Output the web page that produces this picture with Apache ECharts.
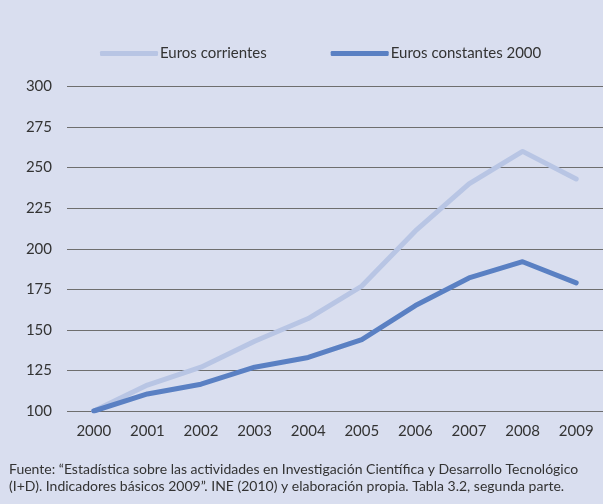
<!DOCTYPE html>
<html><head><meta charset="utf-8">
<script src="https://cdn.jsdelivr.net/npm/echarts@6/dist/echarts.min.js"></script>
<style>html,body{margin:0;padding:0;background:#d9deef;}#c{width:603px;height:504px;}</style>
</head><body><div id="c"></div>
<script>
const years = ['2000','2001','2002','2003','2004','2005','2006','2007','2008','2009'];
const corrientes = [100, 116, 127, 143, 157, 177, 211, 240, 260, 243];
const constantes2000 = [100, 110.5, 116.5, 127, 133, 144, 165, 182, 192, 179];
const seriesNames = ['Euros corrientes', 'Euros constantes 2000'];
const footLine1 = 'Fuente: \u201cEstadística sobre las actividades en Investigación Científica y Desarrollo Tecnológico';
const footLine2 = '(I+D). Indicadores básicos 2009\u201d. INE (2010) y elaboración propia. Tabla 3.2, segunda parte.';

const font = 'Lato, "Open Sans", sans-serif';
const chart = echarts.init(document.getElementById('c'), null, {renderer: 'canvas'});
chart.setOption({
  backgroundColor: '#d9deef',
  animation: false,
  textStyle: {fontFamily: font},
  legend: {
    left: 100, top: 46, padding: 0,
    itemWidth: 58, itemHeight: 5, itemGap: 64,
    icon: 'roundRect',
    textStyle: {fontSize: 15, color: '#333', fontFamily: font, padding: [0,0,0,-3]},
    data: seriesNames
  },
  grid: {left: 67, right: -4, top: 86.5, bottom: 93},
  xAxis: {
    type: 'category', data: years, boundaryGap: true,
    axisLine: {show: false}, axisTick: {show: false},
    axisLabel: {fontSize: 15, color: '#333', margin: 13, fontFamily: font}
  },
  yAxis: {
    type: 'value', min: 100, max: 300, interval: 25,
    axisLine: {show: false}, axisTick: {show: false},
    axisLabel: {fontSize: 15, color: '#333', margin: 15, fontFamily: font},
    splitLine: {lineStyle: {color: '#6e6e6e', width: 1}}
  },
  series: [
    {name: seriesNames[0], type: 'line', data: corrientes, symbol: 'none',
     lineStyle: {color: '#b8c5e4', width: 5, cap: 'round', join: 'round'}, itemStyle: {color: '#b8c5e4'}},
    {name: seriesNames[1], type: 'line', data: constantes2000, symbol: 'none',
     lineStyle: {color: '#5a80c3', width: 5, cap: 'round', join: 'round'}, itemStyle: {color: '#5a80c3'}}
  ],
  graphic: [
    {type: 'text', left: 9, top: 462, style: {text: footLine1, font: '14px ' + font, fill: '#333'}},
    {type: 'text', left: 9, top: 479, style: {text: footLine2, font: '14px ' + font, fill: '#333'}}
  ]
});
</script></body></html>
